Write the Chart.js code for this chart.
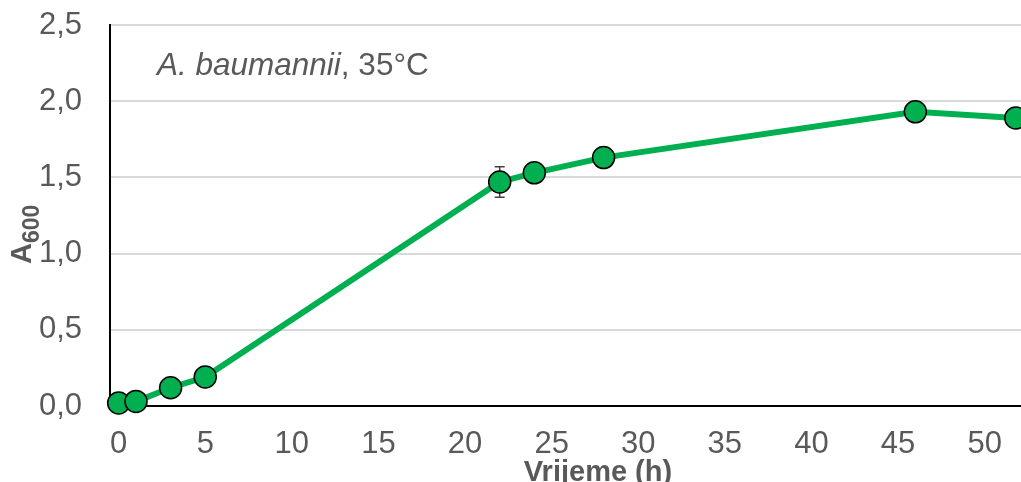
<!DOCTYPE html>
<html>
<head>
<meta charset="utf-8">
<script src="https://cdn.jsdelivr.net/npm/chart.js@4"></script>
<style>
  body { margin: 0; background: #fff; }
</style>
</head>
<body>
<canvas id="growth" width="1021" height="482"></canvas>
<script>
// vrijeme (h) i apsorbancija A600
const hours = [0, 1, 3, 5, 22, 24, 28, 46, 51.8];
const a600 = [0.02, 0.03, 0.12, 0.19, 1.47, 1.53, 1.63, 1.93, 1.89];
const sd = [0.01, 0.01, 0.01, 0.02, 0.10, 0.03, 0.03, 0.03, 0.03];
const xTicks = [0, 5, 10, 15, 20, 25, 30, 35, 40, 45, 50];
const yTicks = [0, 0.5, 1.0, 1.5, 2.0, 2.5];

const grey = '#595959';
const green = '#00B050';
const fam = '"Liberation Sans", Arial, sans-serif';

const errorBars = {
  id: 'errorBars',
  beforeDatasetsDraw(chart) {
    const c = chart.ctx, xs = chart.scales.x, ys = chart.scales.y;
    c.save();
    c.strokeStyle = '#404040';
    c.lineWidth = 1.5;
    hours.forEach((h, i) => {
      const px = xs.getPixelForValue(h);
      const top = ys.getPixelForValue(a600[i] + sd[i]);
      const bot = ys.getPixelForValue(a600[i] - sd[i]);
      c.beginPath();
      c.moveTo(px, top); c.lineTo(px, bot);
      c.moveTo(px - 5, top); c.lineTo(px + 5, top);
      c.moveTo(px - 5, bot); c.lineTo(px + 5, bot);
      c.stroke();
    });
    c.restore();
  }
};

const labels = {
  id: 'labels',
  afterDraw(chart) {
    const c = chart.ctx;
    c.save();
    c.fillStyle = grey;
    // naslov x osi
    c.font = 'bold 29px ' + fam;
    c.textAlign = 'center';
    c.textBaseline = 'alphabetic';
    c.fillText('Vrijeme (h)', 598, 481);
    // naslov y osi s indeksom
    c.translate(31, 264);
    c.rotate(-Math.PI / 2);
    c.textAlign = 'left';
    c.font = 'bold 29px ' + fam;
    c.fillText('A', 0, 0);
    const w = c.measureText('A').width;
    c.font = 'bold 23px ' + fam;
    c.fillText('600', w, 8);
    c.restore();
    // oznaka soja
    c.save();
    c.fillStyle = grey;
    c.textBaseline = 'alphabetic';
    c.font = 'italic 31.5px ' + fam;
    c.fillText('A. baumannii', 157, 75);
    const w2 = c.measureText('A. baumannii').width;
    c.font = '31.5px ' + fam;
    c.fillText(', 35°C', 157 + w2, 75);
    c.restore();
  }
};

new Chart(document.getElementById('growth'), {
  type: 'scatter',
  data: {
    datasets: [{
      data: hours.map((h, i) => ({ x: h, y: a600[i] })),
      showLine: true,
      borderColor: green,
      borderWidth: 6,
      tension: 0,
      pointRadius: 11,
      pointBackgroundColor: green,
      pointBorderColor: '#000',
      pointBorderWidth: 1.5,
      clip: false
    }]
  },
  options: {
    responsive: false,
    animation: false,
    layout: { autoPadding: false, padding: { top: 25, left: 0, right: 0, bottom: 0 } },
    plugins: { legend: { display: false }, tooltip: { enabled: false } },
    scales: {
      x: {
        type: 'linear',
        min: -0.5,
        max: 52.1,
        afterBuildTicks: s => { s.ticks = xTicks.map(v => ({ value: v })); },
        afterFit: s => { s.height = 76; s.paddingLeft = 0; s.paddingRight = 0; },
        grid: { display: false, drawTicks: false },
        border: { color: '#000', width: 2 },
        ticks: {
          color: grey,
          padding: 20,
          font: { size: 31, family: fam },
          maxRotation: 0
        }
      },
      y: {
        min: 0,
        max: 2.5,
        afterBuildTicks: s => { s.ticks = yTicks.map(v => ({ value: v })); },
        afterFit: s => { s.width = 110; s.paddingTop = 0; s.paddingBottom = 0; },
        grid: { color: '#d9d9d9', lineWidth: 2, drawTicks: false },
        border: { color: '#000', width: 2 },
        ticks: {
          color: grey,
          padding: 28,
          font: { size: 31, family: fam },
          callback: v => v.toFixed(1).replace('.', ',')
        }
      }
    }
  },
  plugins: [errorBars, labels]
});
</script>
</body>
</html>
